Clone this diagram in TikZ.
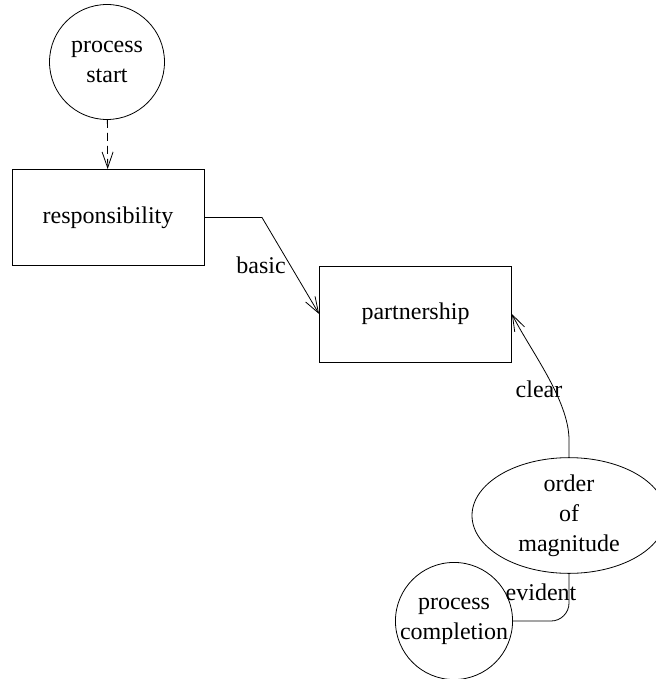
\documentclass[tikz,border=0pt]{standalone}
\usepackage{fontspec}
\setmainfont{Liberation Serif}
\usetikzlibrary{shapes.geometric,arrows.meta}
\tikzset{
  base/.style={font=\fontsize{24}{30}\selectfont, align=center, line width=0.8pt},
  boxnode/.style={base, draw, rectangle, minimum width=192pt, minimum height=96pt, inner sep=0pt},
  circnode/.style={base, draw, circle, minimum size=115pt, inner sep=0pt},
  ellnode/.style={base, draw, ellipse, minimum width=194pt, minimum height=96pt, inner sep=0pt},
  lbl/.style={font=\fontsize{24}{30}\selectfont, inner sep=0pt},
  conn/.style={line width=0.8pt},
  tip/.style={-{Straight Barb[length=16pt,width=11pt,line width=0.8pt]}}
}
\begin{document}
\begin{tikzpicture}[x=1pt,y=-1pt]
\useasboundingbox (0,0) rectangle (655,679);
\node[circnode] (ps) at (107,62) {process\\start};
\node[boxnode] (resp) at (108,217.5) {responsibility};
\node[boxnode] (part) at (415.5,314) {partnership};
\node[ellnode] (om) at (569,515.5) {order\\of\\magnitude};
\node[circnode] (pc) at (454,621) {process\\completion};
\coordinate (c1) at (262,217.5);
\coordinate (c2) at (569,440);
\draw[conn,dash pattern=on 8pt off 5pt,tip] (ps) -- (resp);
\draw[conn,tip] (resp.east) -- (c1) -- (part.west);
\draw[conn,tip] (om.north) -- (c2) .. controls (569,400) and (530,350) .. (part.east);
\draw[conn,rounded corners=18pt] (om.south) |- (pc.east);
\node[lbl] (lbasic) at (261,265) {basic};
\node[lbl] (lclear) at (539,389) {clear};
\node[lbl] (levident) at (541,592) {evident};
\end{tikzpicture}
\end{document}
